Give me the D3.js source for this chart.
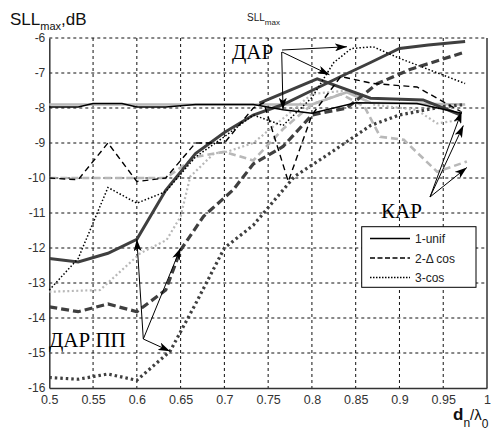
<!DOCTYPE html>
<html><head><meta charset="utf-8">
<script src="https://cdn.jsdelivr.net/npm/d3@7"></script>
<style>body{margin:0;background:#fff}svg{display:block}</style>
</head><body>
<script>
// ---- data ----
const xTicks = [0.5,0.55,0.6,0.65,0.7,0.75,0.8,0.85,0.9,0.95,1];
const xTickLabels = ["0.5","0.55","0.6","0.65","0.7","0.75","0.8","0.85","0.9","0.95","1"];
const yTicks = [-6,-7,-8,-9,-10,-11,-12,-13,-14,-15,-16];
const yTickLabels = ["-6","-7","-8","-9","-10","-11","-12","-13","-14","-15","-16"];

// ДАР (black thin)
const darUnif = [[0.5,-7.97],[0.533,-7.97],[0.55,-7.87],[0.583,-7.87],[0.6,-7.97],[0.633,-7.97],[0.667,-7.9],[0.733,-7.9],[0.767,-8.05],[0.8,-8.15],[0.85,-7.85],[0.92,-7.87],[0.971,-8.15]];
const darDcos = [[0.5,-10.0],[0.533,-10.05],[0.567,-9.0],[0.6,-10.1],[0.633,-10.0],[0.667,-9.0],[0.7,-9.0],[0.733,-8.0],[0.745,-7.85],[0.773,-10.1],[0.8,-8.2],[0.833,-7.1],[0.87,-7.3],[0.92,-7.4],[0.97,-8.1]];
const darCos = [[0.5,-13.2],[0.533,-12.3],[0.567,-10.27],[0.6,-10.72],[0.633,-10.39],[0.667,-9.4],[0.7,-8.82],[0.733,-8.2],[0.767,-8.5],[0.8,-7.7],[0.825,-6.7],[0.845,-6.3],[0.87,-6.25],[0.9,-6.58],[0.975,-7.3]];
// ДАР ПП (dark grey thick)
const ppUnif = [[0.5,-12.3],[0.533,-12.4],[0.567,-12.15],[0.6,-11.75],[0.633,-10.35],[0.667,-9.3],[0.7,-8.7],[0.733,-8.2],[0.767,-7.9],[0.8,-7.5],[0.833,-7.1],[0.867,-6.7],[0.9,-6.3],[0.933,-6.2],[0.975,-6.1]];
const ppUnifB = [[0.74,-7.86],[0.806,-7.17],[0.867,-7.72],[0.927,-7.77],[0.97,-8.2]];
const ppDcos = [[0.5,-13.68],[0.533,-13.82],[0.567,-13.6],[0.6,-13.82],[0.633,-13.2],[0.65,-12.06],[0.676,-11.1],[0.71,-10.34],[0.733,-9.6],[0.767,-9.1],[0.8,-8.2],[0.84,-8.0],[0.875,-7.3],[0.912,-6.9],[0.975,-6.4]];
const ppCos = [[0.5,-15.7],[0.533,-15.75],[0.567,-15.6],[0.6,-15.78],[0.638,-14.95],[0.667,-13.6],[0.7,-12.0],[0.733,-11.35],[0.78,-9.96],[0.82,-9.3],[0.867,-8.5],[0.9,-8.2],[0.95,-7.96],[0.975,-7.9]];
// КАР (light grey)
const karUnif = [[0.5,-7.9],[0.8,-7.9],[0.84,-7.55],[0.867,-7.85],[0.975,-7.9]];
const karDcos = [[0.5,-10],[0.633,-10],[0.667,-9.4],[0.7,-9.25],[0.733,-9.5],[0.767,-8.6],[0.8,-7.9],[0.833,-7.6],[0.86,-7.96],[0.878,-8.82],[0.905,-8.91],[0.943,-9.82],[0.977,-9.53]];
const karCos = [[0.5,-13.25],[0.558,-13.2],[0.604,-12.15],[0.634,-11.77],[0.65,-11.1],[0.661,-9.96],[0.688,-9.3],[0.703,-9.25],[0.733,-9.0],[0.767,-8.3],[0.8,-7.6],[0.84,-7.5],[0.87,-7.9],[0.92,-8.06],[0.943,-8.44],[0.97,-8.34]];

const legendLabels = ["1-unif","2-\u0394 cos","3-cos"];

// ---- chart ----
const W = 499, H = 436;
const svg = d3.select("body").append("svg").attr("width",W).attr("height",H)
  .style("font-family","'Liberation Sans',Arial,sans-serif");
const x = d3.scaleLinear().domain([0.5,1]).range([49.3,487]);
const y = d3.scaleLinear().domain([-16,-6]).range([388,38]);

// grid
const grid = svg.append("g").attr("stroke","#111").attr("stroke-width",1).attr("stroke-dasharray","3,3");
xTicks.slice(1,-1).forEach(t=>grid.append("line").attr("x1",x(t)).attr("x2",x(t)).attr("y1",y(-6)).attr("y2",y(-16)));
yTicks.slice(0,-1).forEach(t=>grid.append("line").attr("x1",x(0.5)).attr("x2",x(1)).attr("y1",y(t)).attr("y2",y(t)));

// axes
const xAxis = d3.axisBottom(x).tickValues(xTicks).tickFormat((d,i)=>xTickLabels[i]).tickSize(0).tickPadding(7);
const gx = svg.append("g").attr("transform",`translate(0,${y(-16)})`).call(xAxis);
gx.select(".domain").attr("stroke","#333").attr("stroke-width",1.5);
gx.selectAll("text").attr("font-size",12.5).attr("fill","#333").attr("font-family","'Liberation Sans',Arial,sans-serif");
const yAxis = d3.axisLeft(y).tickValues(yTicks).tickFormat((d,i)=>yTickLabels[i]).tickSize(0).tickPadding(4);
const gy = svg.append("g").attr("transform",`translate(${x(0.5)},0)`).call(yAxis);
gy.select(".domain").attr("stroke","#333").attr("stroke-width",1.5);
gy.selectAll("text").attr("font-size",12).attr("fill","#333").attr("font-family","'Liberation Sans',Arial,sans-serif");
svg.append("line").attr("x1",x(1)).attr("x2",x(1)).attr("y1",y(-6)).attr("y2",y(-16)).attr("stroke","#333").attr("stroke-width",1.5);

// series
const line = d3.line().x(d=>x(d[0])).y(d=>y(d[1]));
const series = [
  {d:karUnif, c:"#b8b8b8", w:2.6, dash:null},
  {d:karDcos, c:"#b8b8b8", w:2.6, dash:"7,4"},
  {d:karCos, c:"#b8b8b8", w:2.2, dash:"2,2.5"},
  {d:ppUnif, c:"#3f3f3f", w:3, dash:null},
  {d:ppUnifB, c:"#3f3f3f", w:3, dash:null},
  {d:ppDcos, c:"#3f3f3f", w:3.2, dash:"8,4"},
  {d:ppCos, c:"#3f3f3f", w:3.2, dash:"2.5,3"},
  {d:darUnif, c:"#000", w:1.4, dash:null},
  {d:darDcos, c:"#000", w:1.4, dash:"6,4"},
  {d:darCos, c:"#000", w:1.5, dash:"1.5,2"},
];
const gs = svg.append("g").attr("fill","none");
series.forEach(s=>{
  const p = gs.append("path").attr("d",line(s.d)).attr("stroke",s.c).attr("stroke-width",s.w);
  if(s.dash) p.attr("stroke-dasharray",s.dash);
});

// arrows
const defs = svg.append("defs");
defs.append("marker").attr("id","ah").attr("viewBox","0 0 12 8").attr("refX",12).attr("refY",4)
  .attr("markerWidth",12).attr("markerHeight",8).attr("markerUnits","userSpaceOnUse").attr("orient","auto")
  .append("path").attr("d","M0,0 L12,4 L0,8 L3,4 Z").attr("fill","#000");
const ga = svg.append("g").attr("stroke","#000").attr("stroke-width",1).attr("fill","none");
function arrow(x0,y0,x1,y1){ga.append("line").attr("x1",x0).attr("y1",y0).attr("x2",x1).attr("y2",y1).attr("marker-end","url(#ah)");}
// ДАР
arrow(282,50, x(0.84),y(-6.25));
arrow(282,52, x(0.82),y(-7.05));
arrow(281.7,52, x(0.767),y(-8.05));
// КАР
arrow(430,197, x(0.971),y(-8.1));
arrow(430,197, x(0.973),y(-8.5));
arrow(430,197, x(0.977),y(-9.7));
// ДАР ПП
arrow(143.3,339, x(0.6),y(-11.75));
arrow(143.3,339, x(0.65),y(-12.0));
arrow(143.3,339, x(0.638),y(-14.95));

// annotation texts
const serif = "'Liberation Serif','Times New Roman',serif";
svg.append("text").attr("x",232).attr("y",59).attr("font-family",serif).attr("font-size",21).text("ДАР");
svg.append("text").attr("x",381).attr("y",218).attr("font-family",serif).attr("font-size",21).text("КАР");
svg.append("text").attr("x",49).attr("y",347).attr("font-family",serif).attr("font-size",21).text("ДАР ПП");

// legend
const lg = svg.append("g");
lg.append("rect").attr("x",361.7).attr("y",226.7).attr("width",114.3).attr("height",60.6).attr("fill","#fff").attr("stroke","#000").attr("stroke-width",1);
const ldash = [null,"5,2.5","1.5,1.5"];
legendLabels.forEach((t,i)=>{
  const yy = 238.5 + i*19.5;
  const l = lg.append("line").attr("x1",370).attr("x2",410).attr("y1",yy).attr("y2",yy).attr("stroke","#000").attr("stroke-width",1.5);
  if(ldash[i]) l.attr("stroke-dasharray",ldash[i]);
  lg.append("text").attr("x",415).attr("y",yy+4.5).attr("font-size",12).attr("fill","#222").text(t);
});

// titles
const t1 = svg.append("text").attr("x",247).attr("y",21).attr("font-size",10).attr("fill","#222");
t1.append("tspan").text("SLL");
t1.append("tspan").attr("font-size",8).attr("dy",4).text("max");
const yl = svg.append("text").attr("x",10).attr("y",25).attr("font-size",17).attr("fill","#111");
yl.append("tspan").text("SLL");
yl.append("tspan").attr("font-size",11).attr("dy",5).text("max");
yl.append("tspan").attr("dy",-5).text(",dB");
const xl = svg.append("text").attr("x",453).attr("y",420).attr("font-size",17).attr("fill","#111");
xl.append("tspan").attr("font-weight","bold").text("d");
xl.append("tspan").attr("font-size",12).attr("dy",7).text("n");
xl.append("tspan").attr("dy",-7).attr("font-size",15).text("/\u03bb");
xl.append("tspan").attr("font-size",12).attr("dy",8).text("0");
</script>
</body></html>
